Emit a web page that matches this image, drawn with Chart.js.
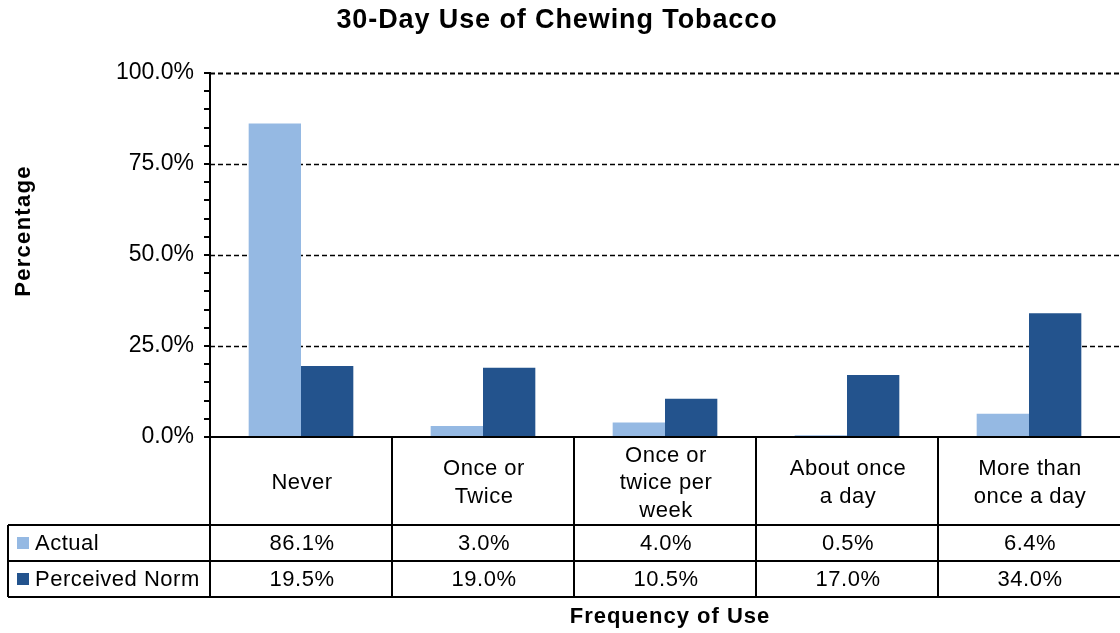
<!DOCTYPE html>
<html>
<head>
<meta charset="utf-8">
<script src="https://cdn.jsdelivr.net/npm/chart.js@4/dist/chart.umd.min.js"></script>
<style>
  html, body { margin: 0; padding: 0; background: #fff; }
  #wrap { width: 1120px; height: 633px; position: relative; }
</style>
</head>
<body>
<div id="wrap"><canvas id="chewCanvas" width="1120" height="633"></canvas></div>
<script>
// chart data
const categories = [
  ['Never'],
  ['Once or', 'Twice'],
  ['Once or', 'twice per', 'week'],
  ['About once', 'a day'],
  ['More than', 'once a day'],
];
const actual = [86.1, 3.0, 4.0, 0.5, 6.4];
const perceivedNorm = [19.5, 19.0, 10.5, 17.0, 34.0];
const seriesNames = ['Actual', 'Perceived Norm'];
const majorTicks = [25, 50, 75, 100];

const FONT = '"Liberation Sans", Arial, sans-serif';
const LIGHT = '#95b9e3';
const DARK = '#23538d';

// title, axis titles, dashed grid and the data table underneath
const tablePlugin = {
  id: 'tablePlugin',
  beforeDatasetsDraw(chart) {
    const { ctx, chartArea: a, scales } = chart;
    ctx.save();
    ctx.strokeStyle = '#000';
    majorTicks.forEach((v) => {
      const y = Math.round(scales.y.getPixelForValue(v)) + 0.5;
      ctx.lineWidth = v === 100 ? 2 : 1.3;
      ctx.setLineDash([5, 3]);
      ctx.beginPath();
      ctx.moveTo(a.left, y);
      ctx.lineTo(a.right, y);
      ctx.stroke();
    });
    ctx.restore();
  },
  afterDraw(chart) {
    const { ctx, chartArea: a, scales } = chart;
    const x = scales.x;
    ctx.save();
    ctx.fillStyle = '#000';
    ctx.textAlign = 'center';
    ctx.textBaseline = 'middle';

    ctx.letterSpacing = '0.9px';
    ctx.font = 'bold 27px ' + FONT;
    ctx.fillText('30-Day Use of Chewing Tobacco', 557, 21);
    ctx.letterSpacing = '1px';
    ctx.font = 'bold 22px ' + FONT;
    ctx.fillText('Frequency of Use', (a.left + a.right) / 2 + 5, 617);
    ctx.save();
    ctx.translate(24, 231);
    ctx.rotate(-Math.PI / 2);
    ctx.letterSpacing = '1.3px';
    ctx.font = 'bold 22px ' + FONT;
    ctx.fillText('Percentage', 0, 0);
    ctx.restore();
    ctx.letterSpacing = '0.5px';

    // table geometry
    const headTop = a.bottom;
    const row1 = 525, row2 = 561, row3 = 597;
    const legLeft = 8;
    const step = (a.right - a.left) / categories.length;
    const bounds = categories.map((_, i) => x.getPixelForValue(i) - step / 2);
    bounds.push(a.right);

    ctx.strokeStyle = '#000';
    ctx.lineWidth = 2;
    ctx.setLineDash([]);
    ctx.beginPath();
    ctx.moveTo(a.left, headTop); ctx.lineTo(a.right, headTop);
    [row1, row2, row3].forEach((y) => { ctx.moveTo(legLeft, y); ctx.lineTo(a.right, y); });
    bounds.slice(0, -1).forEach((bx) => { ctx.moveTo(bx, headTop); ctx.lineTo(bx, row3); });
    ctx.moveTo(legLeft, row1); ctx.lineTo(legLeft, row3);
    ctx.stroke();

    // category labels
    ctx.font = '22px ' + FONT;
    const lh = 27.5;
    categories.forEach((lines, i) => {
      const cx = x.getPixelForValue(i) + 1;
      const cy = (headTop + row1) / 2 + 2;
      lines.forEach((t, j) => {
        ctx.fillText(t, cx, cy + (j - (lines.length - 1) / 2) * lh);
      });
    });

    // values
    const rows = [actual, perceivedNorm];
    const rowMid = [(row1 + row2) / 2 + 1, (row2 + row3) / 2 + 1];
    rows.forEach((vals, r) => {
      vals.forEach((v, i) => {
        ctx.fillText(v.toFixed(1) + '%', x.getPixelForValue(i) + 1, rowMid[r]);
      });
    });

    // legend keys
    ctx.textAlign = 'left';
    [LIGHT, DARK].forEach((c, r) => {
      ctx.fillStyle = c;
      ctx.fillRect(17, rowMid[r] - 7, 12, 12);
      ctx.fillStyle = '#000';
      ctx.fillText(seriesNames[r], 35, rowMid[r]);
    });
    ctx.restore();
  },
};

new Chart(document.getElementById('chewCanvas'), {
  type: 'bar',
  data: {
    labels: categories.map((c) => c.join(' ')),
    datasets: [
      { label: seriesNames[0], data: actual, backgroundColor: LIGHT },
      { label: seriesNames[1], data: perceivedNorm, backgroundColor: DARK },
    ],
  },
  options: {
    responsive: false,
    animation: false,
    events: [],
    layout: { padding: { top: 73, bottom: 196, left: 0, right: 0 } },
    datasets: { bar: { categoryPercentage: 0.575, barPercentage: 1.0 } },
    plugins: { legend: { display: false }, tooltip: { enabled: false }, title: { display: false } },
    scales: {
      x: { display: false },
      y: {
        min: 0,
        max: 100,
        afterFit: (s) => { s.width = 210; },
        border: { color: '#000', width: 2 },
        grid: { drawOnChartArea: false, tickLength: 6, color: '#000', lineWidth: 2 },
        ticks: {
          stepSize: 5,
          autoSkip: false,
          padding: 10,
          color: '#000',
          font: { family: FONT, size: 23 },
          callback: (v) => (v % 25 === 0 ? v.toFixed(1) + '%' : ''),
        },
      },
    },
  },
  plugins: [tablePlugin],
});
</script>
</body>
</html>
